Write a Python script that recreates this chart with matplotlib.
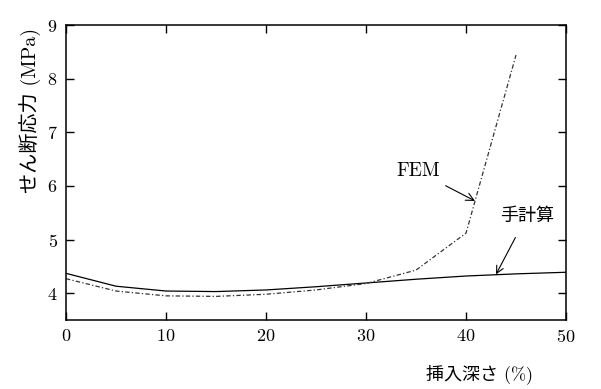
import matplotlib.pyplot as plt

plt.rcParams['font.family'] = ['cmr10', 'Noto Sans CJK JP', 'DejaVu Sans']
plt.rcParams['axes.formatter.use_mathtext'] = True

# insertion depth (%) and shear stress (MPa)
depth_hand = [0, 5, 10, 15, 20, 25, 30, 35, 40, 45, 50]
stress_hand = [4.37, 4.13, 4.04, 4.03, 4.06, 4.12, 4.19, 4.26, 4.32, 4.36, 4.39]

depth_fem = [0, 5, 10, 15, 20, 25, 30, 35, 40, 45]
stress_fem = [4.27, 4.04, 3.95, 3.94, 3.98, 4.06, 4.18, 4.43, 5.12, 8.44]

x_ticks = [0, 10, 20, 30, 40, 50]
y_ticks = [4, 5, 6, 7, 8, 9]

fig = plt.figure(figsize=(6.01, 3.89), dpi=100)
ax = fig.add_axes([0.1098, 0.1774, 0.832, 0.7583])

ax.plot(depth_hand, stress_hand, color='black', lw=0.9)
ax.plot(depth_fem, stress_fem, color='#333333', lw=0.9, linestyle=(0, (3.5, 1.8, 1, 1.8)))

ax.set_xlim(0, 50)
ax.set_ylim(3.5, 9)
ax.set_xticks(x_ticks)
ax.set_yticks(y_ticks)
ax.tick_params(direction='in', length=6, width=1, top=True, right=True, labelsize=13, pad=6)
for s in ax.spines.values():
    s.set_linewidth(1.1)

ax.set_xlabel('挿入深さ (%)', fontsize=13)
ax.xaxis.set_label_coords(0.826, -0.15)
ax.set_ylabel('せん断応力 (MPa)', fontsize=14.5)
ax.yaxis.set_label_coords(-0.05, 0.71)

ax.annotate('FEM', xy=(40.9, 5.72), xytext=(35.2, 6.27), fontsize=14,
            ha='center', va='center',
            arrowprops=dict(arrowstyle='->', color='black', lw=0.8,
                            shrinkA=4, shrinkB=0))
ax.annotate('手計算', xy=(43.0, 4.35), xytext=(46.1, 5.45), fontsize=13,
            ha='center', va='center',
            arrowprops=dict(arrowstyle='->', color='black', lw=0.8,
                            shrinkA=9, shrinkB=0))

fig.savefig('out.png', dpi=100)
